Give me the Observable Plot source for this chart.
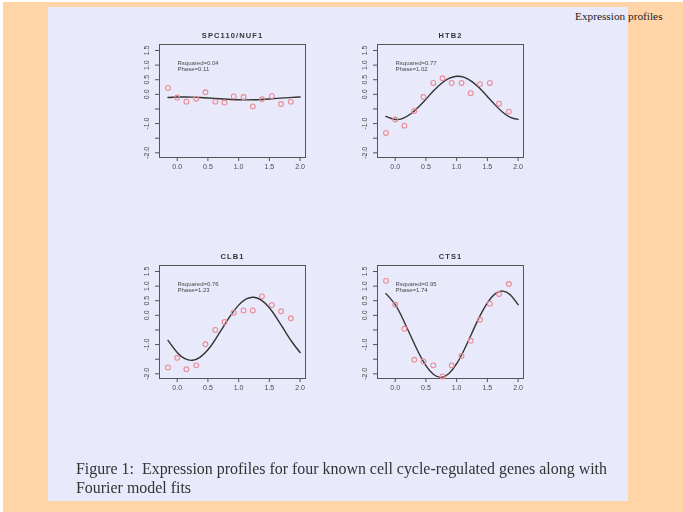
<!DOCTYPE html>
<html>
<head>
<meta charset="utf-8">
<script src="https://cdn.jsdelivr.net/npm/d3@7"></script>
<script src="https://cdn.jsdelivr.net/npm/@observablehq/plot@0.6"></script>
<style>
  html, body { margin: 0; padding: 0; background: #fff; }
  #page { position: relative; width: 683px; height: 512px; overflow: hidden; background: #fff; }
  #outer { position: absolute; left: 3px; top: 2px; right: 0; bottom: 0; background: #ffd5a8; }
  #sheet { position: absolute; left: 48px; top: 7px; width: 580px; height: 494px; background: #e8eafb; }
  #header { position: absolute; left: 575px; top: 10px; font: 11.3px "Liberation Serif", "Times New Roman", serif; color: #222; white-space: nowrap; }
  #caption { position: absolute; left: 76px; top: 460px; font: 17px/18.6px "Liberation Serif", "Times New Roman", serif; color: #333; white-space: nowrap; transform-origin: 0 0; }
  .panel { position: absolute; filter: blur(0.35px); }
</style>
</head>
<body>
<div id="page">
  <div id="outer"></div>
  <div id="sheet"></div>
  <div id="header">Expression profiles</div>
  <div id="caption"><span id="line1">Figure 1:&nbsp; Expression profiles for four known cell cycle-regulated genes along with</span><br><span>Fourier model fits</span></div>
</div>
<script>
// Sampling times (cell-cycle units) shared by all four genes
const times = [-0.15, 0.0, 0.15, 0.31, 0.46, 0.62, 0.77, 0.92, 1.08, 1.23, 1.38, 1.54, 1.69, 1.85];

// Observed log expression per gene
const spc110 = [0.22, -0.11, -0.25, -0.15, 0.07, -0.25, -0.28, -0.07, -0.09, -0.41, -0.17, -0.06, -0.33, -0.25];
const htb2   = [-1.32, -0.86, -1.07, -0.57, -0.09, 0.39, 0.55, 0.39, 0.39, 0.04, 0.35, 0.39, -0.32, -0.59];
const clb1   = [-1.78, -1.45, -1.84, -1.71, -0.99, -0.50, -0.23, 0.09, 0.17, 0.17, 0.65, 0.35, 0.14, -0.10];
const cts1   = [1.18, 0.36, -0.46, -1.52, -1.58, -1.71, -2.09, -1.71, -1.39, -0.87, -0.15, 0.40, 0.73, 1.07];

// Fitted Fourier curves, read at these positions
const fitX = [-0.15, 0, 0.125, 0.25, 0.375, 0.5, 0.625, 0.75, 0.875, 1.0, 1.125, 1.25, 1.375, 1.5, 1.625, 1.75, 1.875, 2.0];
const spc110Fit = [-0.106, -0.093, -0.09, -0.095, -0.106, -0.123, -0.142, -0.161, -0.177, -0.187, -0.19, -0.185, -0.174, -0.157, -0.138, -0.119, -0.103, -0.093];
const htb2Fit   = [-0.753, -0.858, -0.82, -0.674, -0.441, -0.166, 0.12, 0.373, 0.545, 0.619, 0.58, 0.435, 0.206, -0.073, -0.36, -0.613, -0.785, -0.858];
const clb1Fit   = [-0.857, -1.27, -1.482, -1.538, -1.43, -1.179, -0.81, -0.392, 0.015, 0.35, 0.562, 0.618, 0.51, 0.259, -0.11, -0.528, -0.929, -1.269];
const cts1Fit   = [0.743, 0.365, -0.124, -0.691, -1.252, -1.72, -2.025, -2.12, -1.989, -1.655, -1.166, -0.599, -0.037, 0.43, 0.734, 0.83, 0.699, 0.365];

// Gene names and fit statistics
const genes = ["SPC110/NUF1", "HTB2", "CLB1", "CTS1"];
const rsquared = ["0.04", "0.77", "0.76", "0.95"];
const phases = ["0.11", "1.02", "1.23", "1.74"];

// Axis ticks
const xTicks = [0, 0.5, 1, 1.5, 2];
const yTicks = [-2, -1.5, -1, -0.5, 0, 0.5, 1, 1.5];
const yLabelled = [-2, -1, 0, 0.5, 1, 1.5];

const observed = [spc110, htb2, clb1, cts1];
const fitted = [spc110Fit, htb2Fit, clb1Fit, cts1Fit];
const slots = [[119, 20], [337, 20], [119, 241], [337, 241]];

const ink = "#4a4a4a";

function panel(i) {
  const pts = times.map((t, j) => ({t, v: observed[i][j]}));
  const fit = fitX.map((t, j) => ({t, v: fitted[i][j]}));
  return Plot.plot({
    width: 200,
    height: 165,
    marginLeft: 40,
    marginRight: 14,
    marginTop: 24,
    marginBottom: 28,
    style: {background: "transparent", fontFamily: "'Liberation Sans', Arial, sans-serif", fontSize: "7px", color: ink},
    x: {domain: [-0.288, 2.088]},
    y: {domain: [-2.16, 1.705]},
    marks: [
      Plot.frame({stroke: "#555", strokeWidth: 1}),
      Plot.axisX({ticks: xTicks, tickFormat: d3.format(".1f"), tickSize: 4, tickPadding: 3, stroke: "#555", fill: ink, label: null}),
      Plot.axisY({ticks: yTicks, tickFormat: d => yLabelled.includes(d) ? d.toFixed(1) : "", tickSize: 4, tickPadding: 7, tickRotate: -90, stroke: "#555", fill: ink, label: null}),
      Plot.line(fit, {x: "t", y: "v", curve: "natural", stroke: "#333", strokeWidth: 1.4}),
      Plot.dot(pts, {x: "t", y: "v", r: 2.4, stroke: "#ec8a94", strokeWidth: 1.1, fill: "none"}),
      Plot.text([`Rsquared=${rsquared[i]}\nPhase=${phases[i]}`], {frameAnchor: "top-left", dx: 18, dy: 16, lineAnchor: "top", lineHeight: 1, fontSize: 6, textAnchor: "start", fill: ink}),
      Plot.text([genes[i]], {frameAnchor: "top", dy: -12, fontSize: 7.5, fontWeight: "bold", fill: "#333"})
    ]
  });
}

const page = document.getElementById("page");
genes.forEach((g, i) => {
  const wrap = document.createElement("div");
  wrap.className = "panel";
  wrap.style.left = slots[i][0] + "px";
  wrap.style.top = slots[i][1] + "px";
  const svg = panel(i);
  svg.querySelectorAll("text").forEach(t => { if (t.textContent === g) t.setAttribute("letter-spacing", "1.1"); });
  wrap.appendChild(svg);
  page.appendChild(wrap);
});

// Condense the caption to its printed line length
const cap = document.getElementById("caption");
const w = document.getElementById("line1").getBoundingClientRect().width;
cap.style.transform = `scaleX(${531 / w})`;
</script>
</body>
</html>
